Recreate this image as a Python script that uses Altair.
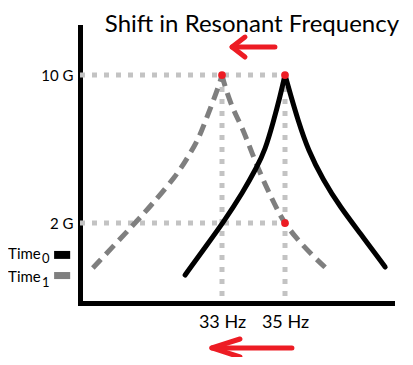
import altair as alt
import pandas as pd

# ---- data (x in Hz, y in G) ----
t0_left_x = [31.83, 32.40, 33.03, 33.67, 34.11, 34.37, 34.62, 34.84, 35.0]
t0_left_y = [-0.81, 0.54, 2.0, 3.68, 5.03, 5.95, 7.41, 8.81, 10.0]
t0_right_x = [35.0, 35.16, 35.41, 35.73, 36.21, 36.75, 37.38, 38.18]
t0_right_y = [10.0, 9.03, 7.57, 5.95, 4.33, 2.87, 1.46, -0.38]
t1_left_x = [28.90, 30.24, 30.71, 31.57, 31.92, 32.24, 32.46, 32.71, 32.94, 33.0]
t1_left_y = [-0.43, 2.0, 2.87, 4.60, 5.57, 6.49, 7.46, 8.54, 9.62, 10.0]
t1_right_x = [33.0, 33.10, 33.35, 33.64, 33.95, 34.37, 34.84, 35.0, 35.32, 35.95, 36.30]
t1_right_y = [10.0, 9.35, 8.11, 7.19, 5.78, 4.05, 2.43, 2.0, 1.24, 0.11, -0.43]

dot_x = [33, 35, 35]
dot_y = [10, 10, 2]

x_ticks = [33, 35]
y_ticks = [2, 10]
x_domain = [28.492, 38.397]
y_domain = [-2.324, 12.595]

# dotted guide segments: (x, y, x2, y2)
guide_x = [28.492, 28.492, 33, 35]
guide_y = [10, 2, 10, 10]
guide_x2 = [35, 35, 33, 35]
guide_y2 = [10, 2, -2.324, -2.324]

# arrows (polylines)
arrow_id = ["a", "a", "b", "b", "b", "c", "c", "d", "d", "d"]
arrow_x = [34.68, 33.32, 33.73, 33.32, 33.73, 35.22, 32.68, 33.57, 32.68, 33.57]
arrow_y = [11.51, 11.51, 12.05, 11.51, 10.97, -4.756, -4.756, -4.27, -4.756, -5.243]

title_text = "Shift in Resonant Frequency"
title_pos = (33.95, 12.325)

legend_labels = ["Time", "Time"]
legend_subs = ["0", "1"]
legend_colors = ["#000000", "#7f7f7f"]
legend_text_x = [26.21, 26.21]
legend_text_y = [0.054, -1.189]
legend_sub_x = [27.286, 27.286]
legend_sub_y = [-0.162, -1.459]
legend_box_x = [27.67, 27.67]
legend_box_x2 = [28.18, 28.18]
legend_box_y = [0.49, -0.65]
legend_box_y2 = [0.06, -1.03]

# ---- tables ----
rows = []
for name, xs_, ys_ in [("t0L", t0_left_x, t0_left_y), ("t0R", t0_right_x, t0_right_y),
                       ("t1L", t1_left_x, t1_left_y), ("t1R", t1_right_x, t1_right_y)]:
    for i, (a, b) in enumerate(zip(xs_, ys_)):
        rows.append({"branch": name, "x": a, "y": b, "i": i})
curves = pd.DataFrame(rows)
black = curves[curves.branch.str.startswith("t0")]
gray = curves[curves.branch.str.startswith("t1")]

dots = pd.DataFrame({"x": dot_x, "y": dot_y})
guides = pd.DataFrame({"x": guide_x, "y": guide_y, "x2": guide_x2, "y2": guide_y2})
arrows = pd.DataFrame({"id": arrow_id, "x": arrow_x, "y": arrow_y, "i": list(range(len(arrow_x)))})
title_df = pd.DataFrame({"x": [title_pos[0]], "y": [title_pos[1]], "t": [title_text]})
leg_txt = pd.DataFrame({"x": legend_text_x, "y": legend_text_y, "t": legend_labels})
leg_sub = pd.DataFrame({"x": legend_sub_x, "y": legend_sub_y, "t": legend_subs})
leg_box = pd.DataFrame({"x": legend_box_x, "x2": legend_box_x2, "y": legend_box_y,
                        "y2": legend_box_y2, "c": legend_colors})

FONT = "Lato"
xs = alt.Scale(domain=x_domain, nice=False, zero=False)
ys = alt.Scale(domain=y_domain, nice=False, zero=False)
x_axis = alt.Axis(values=x_ticks, labelExpr="datum.value + ' Hz'",
                  title=None, grid=False, ticks=False, domainColor="black", domainWidth=5,
                  domainCap="square", labelFont=FONT, labelFontSize=18, labelColor="black",
                  labelPadding=10, labelFlush=False)
y_axis = alt.Axis(values=y_ticks, labelExpr="datum.value + ' G'",
                  title=None, grid=False, ticks=False, domainColor="black", domainWidth=5,
                  domainCap="square", labelFont=FONT, labelFontSize=15, labelColor="black",
                  labelPadding=7)


def X(f="x"):
    return alt.X(f"{f}:Q", scale=xs, axis=x_axis)


def Y(f="y"):
    return alt.Y(f"{f}:Q", scale=ys, axis=y_axis)


guide_layer = alt.Chart(guides).mark_rule(color="#c3c3c3", strokeWidth=5, strokeDash=[5, 7]).encode(
    x=X(), y=Y(), x2="x2:Q", y2="y2:Q")

gray_layer = alt.Chart(gray).mark_line(color="#7f7f7f", strokeWidth=5, strokeDash=[12, 7],
                                       interpolate="basis").encode(
    x=X(), y=Y(), detail="branch:N", order="i:Q")

black_layer = alt.Chart(black).mark_line(color="black", strokeWidth=5, strokeCap="round",
                                         interpolate="basis").encode(
    x=X(), y=Y(), detail="branch:N", order="i:Q")

dot_layer = alt.Chart(dots).mark_circle(color="#ed1c24", size=60, opacity=1).encode(x=X(), y=Y())

arrow_layer = alt.Chart(arrows).mark_line(color="#ed1c24", strokeWidth=5, strokeCap="round",
                                          strokeJoin="round").encode(
    x=X(), y=Y(), detail="id:N", order="i:Q")

title_layer = alt.Chart(title_df).mark_text(font=FONT, fontSize=24, color="black",
                                            baseline="alphabetic", align="center").encode(
    x=X(), y=Y(), text="t:N")

leg_txt_layer = alt.Chart(leg_txt).mark_text(font=FONT, fontSize=15, color="black",
                                             baseline="alphabetic", align="left").encode(
    x=X(), y=Y(), text="t:N")
leg_sub_layer = alt.Chart(leg_sub).mark_text(font=FONT, fontSize=13, color="black",
                                             baseline="alphabetic", align="left").encode(
    x=X(), y=Y(), text="t:N")
leg_box_layer = alt.Chart(leg_box).mark_rect().encode(
    x=X(), x2="x2:Q", y=Y(), y2="y2:Q", color=alt.Color("c:N", scale=None))

chart = alt.layer(
    guide_layer, gray_layer, black_layer, dot_layer, arrow_layer,
    title_layer, leg_txt_layer, leg_sub_layer, leg_box_layer,
).properties(
    width=312, height=276,
    padding={"left": 72, "top": 19, "right": 13, "bottom": 54},
    autosize=alt.AutoSizeParams(type="none"),
).configure_view(stroke=None)

chart.save("out.html", embed_options={"renderer": "svg", "actions": False})
